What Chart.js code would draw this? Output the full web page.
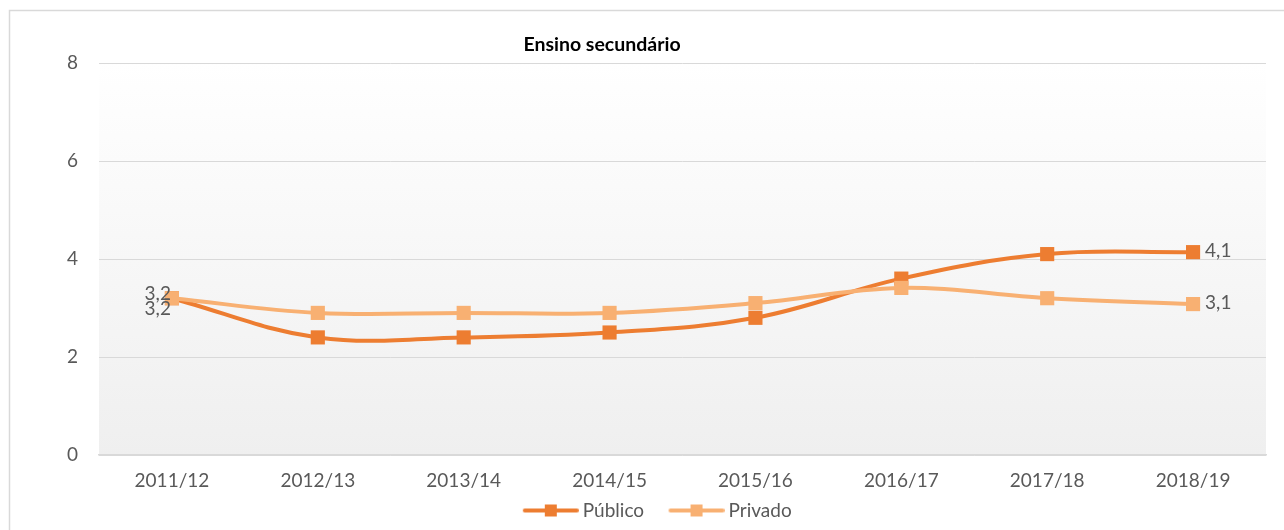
<!DOCTYPE html>
<html><head><meta charset="utf-8">
<script src="https://cdn.jsdelivr.net/npm/chart.js@4/dist/chart.umd.min.js"></script>
<style>html,body{margin:0;padding:0;background:#fff;overflow:hidden;}</style>
</head><body>
<canvas id="c" width="1284" height="530"></canvas>
<script>
const categories = ['2011/12','2012/13','2013/14','2014/15','2015/16','2016/17','2017/18','2018/19'];
const publico = [3.2, 2.4, 2.4, 2.5, 2.8, 3.6, 4.1, 4.14];
const privado = [3.2, 2.9, 2.9, 2.9, 3.1, 3.41, 3.2, 3.08];
const yTicks = [0, 2, 4, 6, 8];
const chartTitle = 'Ensino secundário';
const seriesNames = ['Público', 'Privado'];
const seriesColors = ['#ED7D31', '#F8B072'];

const FONT = 'Lato, "Open Sans", sans-serif';
const TXT = '#595959';

function legendMarker(color) {
  const cv = document.createElement('canvas');
  cv.width = 76; cv.height = 14;
  const g = cv.getContext('2d');
  g.strokeStyle = color; g.lineWidth = 4; g.lineCap = 'round';
  g.beginPath(); g.moveTo(22, 7); g.lineTo(74, 7); g.stroke();
  g.fillStyle = color; g.fillRect(42, 1, 12, 12);
  return cv;
}
const markers = seriesColors.map(legendMarker);

const bgPlugin = {
  id: 'bg',
  beforeDraw(chart) {
    const {ctx, chartArea: a} = chart;
    ctx.save();
    ctx.fillStyle = '#fff';
    ctx.fillRect(0, 0, chart.width, chart.height);
    const gr = ctx.createLinearGradient(0, a.top, 0, a.bottom);
    gr.addColorStop(0, '#ffffff');
    gr.addColorStop(1, '#efefef');
    ctx.fillStyle = gr;
    ctx.fillRect(a.left, a.top, a.right - a.left, a.bottom - a.top);
    ctx.strokeStyle = '#d9d9d9';
    ctx.lineWidth = 1.5;
    ctx.strokeRect(9.5, 10.5, 1300, 560);
    ctx.restore();
  },
  afterDraw(chart) {
    const {ctx} = chart;
    ctx.save();
    ctx.fillStyle = '#000';
    ctx.font = 'bold 19.5px ' + FONT;
    ctx.textAlign = 'center';
    ctx.textBaseline = 'middle';
    ctx.fillText(chartTitle, 602, 45);
    ctx.restore();
  }
};

const labelPlugin = {
  id: 'pointLabels',
  afterDatasetsDraw(chart) {
    const {ctx} = chart;
    ctx.save();
    ctx.font = '19px ' + FONT;
    ctx.fillStyle = TXT;
    ctx.textBaseline = 'middle';
    const fmt = v => v.toFixed(1).replace('.', ',');
    chart.data.datasets.forEach((ds, di) => {
      const meta = chart.getDatasetMeta(di);
      const n = ds.data.length;
      const p0 = meta.data[0];
      ctx.textAlign = 'right';
      ctx.fillText(fmt(ds.data[0]), p0.x - 1, p0.y + (di === 0 ? 11 : -4));
      const pl = meta.data[n - 1];
      ctx.textAlign = 'left';
      ctx.fillText(fmt(ds.data[n - 1]), pl.x + 12, pl.y - 1);
    });
    ctx.restore();
  }
};

const datasets = [
  { label: seriesNames[0], data: publico, borderColor: seriesColors[0], backgroundColor: seriesColors[0], order: 1 },
  { label: seriesNames[1], data: privado, borderColor: seriesColors[1], backgroundColor: seriesColors[1], order: 0 }
].map(d => Object.assign(d, {
  borderWidth: 4, tension: 0.38, pointStyle: 'rect', pointRadius: 10, pointHoverRadius: 10,
  pointBorderWidth: 0, fill: false
}));

new Chart(document.getElementById('c'), {
  type: 'line',
  data: { labels: categories, datasets },
  options: {
    responsive: false, animation: false, devicePixelRatio: 1,
    layout: { padding: { left: 34, right: 18, top: 63, bottom: 0 } },
    plugins: {
      title: { display: false },
      tooltip: { enabled: false },
      legend: {
        position: 'bottom',
        labels: {
          usePointStyle: true, pointStyleWidth: 65, padding: 10,
          color: TXT, font: { family: FONT, size: 19 },
          generateLabels(chart) {
            const items = Chart.defaults.plugins.legend.labels.generateLabels(chart);
            items.forEach(it => { it.pointStyle = markers[it.datasetIndex]; });
            return items;
          },
          sort: (a, b) => a.datasetIndex - b.datasetIndex
        }
      }
    },
    scales: {
      x: {
        offset: true,
        grid: { display: false, drawTicks: false },
        border: { display: true, color: '#d9d9d9', width: 1.5 },
        ticks: { color: TXT, font: { family: FONT, size: 19 }, padding: 14, maxRotation: 0 },
        afterFit(s) { s.height = 36; }
      },
      y: {
        min: 0, max: 8,
        afterBuildTicks(s) { s.ticks = yTicks.map(v => ({ value: v })); },
        grid: { color: '#d9d9d9', drawTicks: false, lineWidth: 1 },
        border: { display: false },
        ticks: { color: TXT, font: { family: FONT, size: 19 }, padding: 21 },
        afterFit(s) { s.width = 65; }
      }
    }
  },
  plugins: [bgPlugin, labelPlugin]
});
</script>
</body></html>
